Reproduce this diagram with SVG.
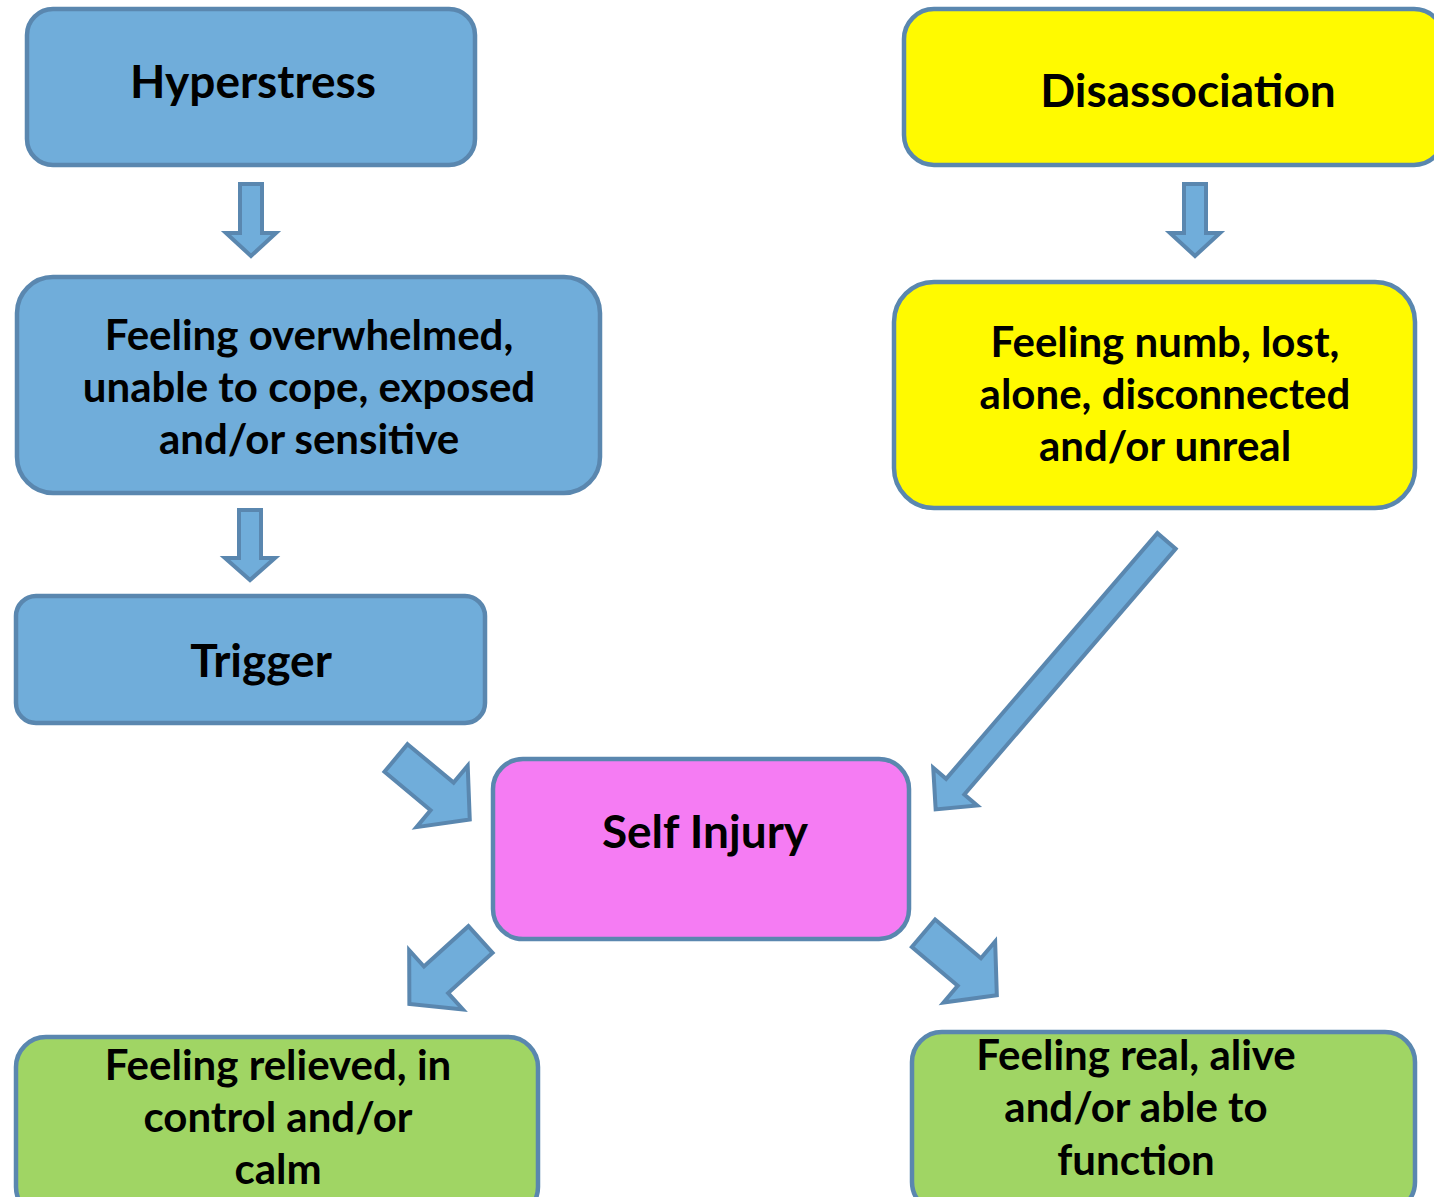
<svg xmlns="http://www.w3.org/2000/svg" width="1434" height="1197" viewBox="0 0 1434 1197">
<style>
.box{stroke:#5A87AF;stroke-width:4.5}
.blue{fill:#70ADDA}
.yellow{fill:#FFFA00}
.pink{fill:#F57CF3}
.green{fill:#A0D564}
.arr{fill:#70ADDA;stroke:#5A87AF;stroke-width:4;stroke-linejoin:miter;stroke-miterlimit:10}
text{font-family:Lato,"Open Sans","Liberation Sans",sans-serif;font-weight:700;fill:#000;text-anchor:middle}
.t{font-size:46px}
.b{font-size:42px}
</style>
<rect width="1434" height="1197" fill="#fff"/>
<g id="connectors">
<polygon class="arr" points="240,184 262,184 262,233 276,233 251,256 226,233 240,233"/>
<polygon class="arr" points="239,510 261,510 261,558 275,558 250,580 225,558 239,558"/>
<polygon class="arr" points="1184,184 1206,184 1206,233 1220,233 1195,256 1170,233 1184,233"/>
<polygon class="arr" transform="translate(1166.5,541) rotate(130.7)" points="0,-12 324,-12 324,-29 354,0 324,29 324,12 0,12"/>
<polygon class="arr" transform="translate(396,758) rotate(39.8)" points="0,-18 60,-18 60,-40 96,0 60,40 60,18 0,18"/>
<polygon class="arr" transform="translate(480.5,939.5) rotate(137.8)" points="0,-18 60,-18 60,-40 96,0 60,40 60,18 0,18"/>
<polygon class="arr" transform="translate(923.5,933.3) rotate(40.2)" points="0,-18 60,-18 60,-40 96,0 60,40 60,18 0,18"/>
</g>
<g id="hyperstress">
<rect class="box blue" x="27" y="9" width="448" height="156" rx="26"/>
<text class="t" x="253" y="98">Hyperstress</text>
</g>
<g id="overwhelmed">
<rect class="box blue" x="17" y="277" width="583" height="216" rx="36"/>
<text class="b" x="309" y="350">Feeling overwhelmed,</text>
<text class="b" x="309" y="402">unable to cope, exposed</text>
<text class="b" x="309" y="454">and/or sensitive</text>
</g>
<g id="trigger">
<rect class="box blue" x="16" y="596" width="469" height="127" rx="20"/>
<text class="t" x="261" y="677">Trigger</text>
</g>
<g id="disassociation">
<rect class="box yellow" x="904" y="9" width="540" height="156" rx="30"/>
<text class="t" x="1188" y="107">Disassociation</text>
</g>
<g id="numb">
<rect class="box yellow" x="894" y="282" width="521" height="226" rx="40"/>
<text class="b" x="1165" y="357">Feeling numb, lost,</text>
<text class="b" x="1165" y="409">alone, disconnected</text>
<text class="b" x="1165" y="461">and/or unreal</text>
</g>
<g id="self-injury">
<rect class="box pink" x="493" y="759" width="416" height="180" rx="30"/>
<text class="t" x="705" y="848">Self Injury</text>
</g>
<g id="relieved">
<rect class="box green" x="16" y="1037" width="522" height="180" rx="30"/>
<text class="b" x="278" y="1080">Feeling relieved, in</text>
<text class="b" x="278" y="1132">control and/or</text>
<text class="b" x="278" y="1184">calm</text>
</g>
<g id="real">
<rect class="box green" x="912" y="1032" width="503" height="180" rx="30"/>
<text class="b" x="1136" y="1070">Feeling real, alive</text>
<text class="b" x="1136" y="1122">and/or able to</text>
<text class="b" x="1136" y="1175">function</text>
</g>
</svg>
